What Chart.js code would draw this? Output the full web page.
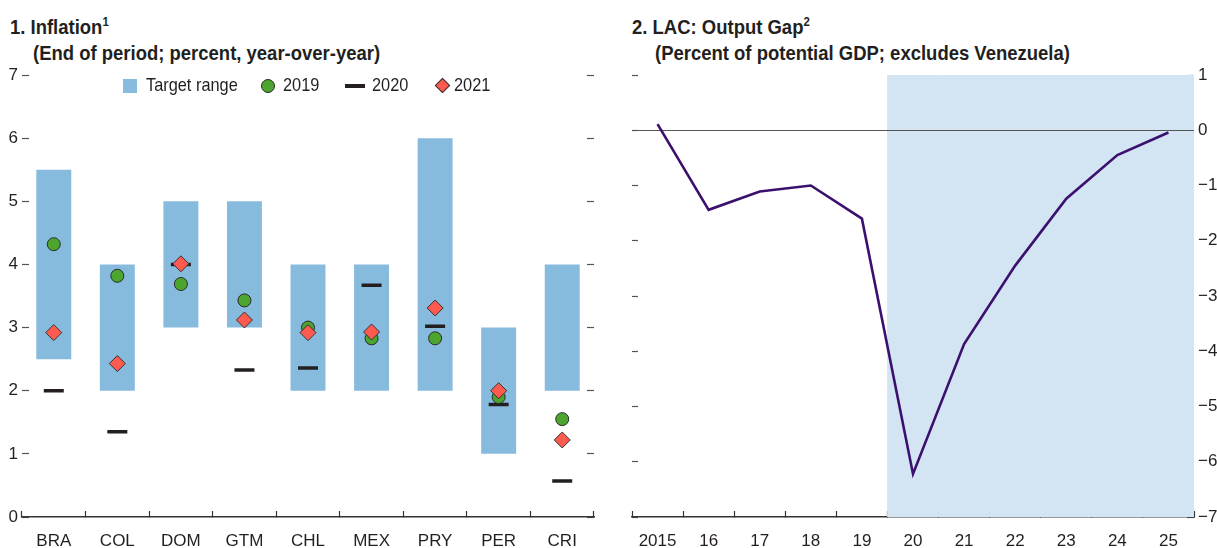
<!DOCTYPE html>
<html>
<head>
<meta charset="utf-8">
<script src="https://cdn.jsdelivr.net/npm/chart.js@4.4.1/dist/chart.umd.min.js"></script>
<style>
  body {
    margin: 0;
    width: 1217px;
    height: 548px;
    overflow: hidden;
    background: #fff;
    font-family: "Liberation Sans Narrow", "Liberation Sans", Arial, sans-serif;
    color: #231f20;
  }
  .painel { position: absolute; top: 0; height: 548px; }
  .titulo {
    position: absolute;
    font-weight: bold;
    font-size: 21px;
    line-height: 25px;
    white-space: nowrap;
    transform: scaleX(0.88);
    transform-origin: left center;
  }
  .titulo sup { font-size: 13px; vertical-align: 8px; line-height: 0; }
  .legenda {
    position: absolute;
    top: 74px;
    height: 22px;
    font-size: 19px;
    line-height: 22px;
    white-space: nowrap;
  }
  .legenda span {
    position: absolute;
    top: 0;
    transform: scaleX(0.86);
    transform-origin: left center;
  }
  .marca { position: absolute; }
</style>
</head>
<body>

<div class="titulo" style="left:10px; top:14px;">1. Inflation<sup>1</sup></div>
<div class="titulo" style="left:33px; top:40px;">(End of period; percent, year-over-year)</div>
<div class="titulo" style="left:632px; top:14px;">2. LAC: Output Gap<sup>2</sup></div>
<div class="titulo" style="left:655px; top:40px;">(Percent of potential GDP; excludes Venezuela)</div>

<div class="painel" style="left:0; width:610px;"><canvas id="graficoInflacao"></canvas></div>
<div class="painel" style="left:610px; width:607px;"><canvas id="graficoHiato"></canvas></div>

<div class="legenda" style="left:0; width:610px;">
  <div class="marca" style="left:123px; top:5px; width:14px; height:14px; background:#87bbde;"></div>
  <span style="left:146px;">Target range</span>
  <div class="marca" style="left:261px; top:5px; width:12px; height:12px; border-radius:50%; background:#4ca52e; border:1px solid #2b2b2b;"></div>
  <span style="left:283px;">2019</span>
  <div class="marca" style="left:345px; top:10px; width:20px; height:4px; background:#231f20;"></div>
  <span style="left:372px;">2020</span>
  <div class="marca" style="left:437px; top:6px; width:9px; height:9px; transform:rotate(45deg); background:#ff5a4f; border:1px solid #333;"></div>
  <span style="left:454px;">2021</span>
</div>

<script>
const paises = ["BRA", "COL", "DOM", "GTM", "CHL", "MEX", "PRY", "PER", "CRI"];
const metaMinima = [2.5, 2, 3, 3, 2, 2, 2, 1, 2];
const metaMaxima = [5.5, 4, 5, 5, 4, 4, 6, 3, 4];
const inflacao2019 = [4.32, 3.82, 3.69, 3.43, 3.0, 2.83, 2.83, 1.9, 1.55];
const inflacao2020 = [2.0, 1.35, 4.0, 2.33, 2.36, 3.67, 3.02, 1.78, 0.57];
const inflacao2021 = [2.92, 2.43, 4.01, 3.12, 2.92, 2.93, 3.31, 2.0, 1.22];

const anos = ["2015", "16", "17", "18", "19", "20", "21", "22", "23", "24", "25"];
const hiatoProduto = [0.11, -1.44, -1.11, -1.0, -1.6, -6.22, -3.87, -2.45, -1.24, -0.45, -0.04];
const inicioProjecao = "20";

const FONTE = "'Liberation Sans Narrow', 'Liberation Sans', Arial, sans-serif";
const COR_TEXTO = "#231f20";
const COR_TICK = "#555555";
const TAM_TICK = 17;

Chart.defaults.font.family = FONTE;
Chart.defaults.color = COR_TEXTO;
Chart.defaults.animation = false;

// faixa de meta como barra flutuante
const faixaMeta = paises.map((p, i) => [metaMinima[i], metaMaxima[i]]);

new Chart(document.getElementById("graficoInflacao"), {
  type: "bar",
  data: {
    labels: paises,
    datasets: [
      {
        type: "line",
        label: "2021",
        data: inflacao2021,
        showLine: false,
        pointStyle: "rectRot",
        pointRadius: 8,
        pointBackgroundColor: "#ff5a4f",
        pointBorderColor: "#333333",
        pointBorderWidth: 1,
        order: 0
      },
      {
        type: "line",
        label: "2019",
        data: inflacao2019,
        showLine: false,
        pointStyle: "circle",
        pointRadius: 6.5,
        pointBackgroundColor: "#4ca52e",
        pointBorderColor: "#2b2b2b",
        pointBorderWidth: 1,
        order: 1
      },
      {
        type: "line",
        label: "2020",
        data: inflacao2020,
        showLine: false,
        pointStyle: "line",
        pointRadius: 10,
        pointBorderColor: COR_TEXTO,
        pointBorderWidth: 3.5,
        order: 2
      },
      {
        label: "Target range",
        data: faixaMeta,
        backgroundColor: "#87bbde",
        borderWidth: 0,
        barPercentage: 0.55,
        categoryPercentage: 1,
        order: 3
      }
    ]
  },
  options: {
    responsive: true,
    maintainAspectRatio: false,
    events: [],
    layout: { padding: { top: 75, left: 0, right: 0, bottom: 0 } },
    plugins: {
      legend: { display: false },
      tooltip: { enabled: false }
    },
    scales: {
      x: {
        offset: true,
        grid: {
          offset: true,
          drawOnChartArea: false,
          drawTicks: true,
          tickLength: -6,
          tickColor: "#333333",
          tickWidth: 1.2
        },
        border: { display: true, color: "#333333", width: 1.5 },
        ticks: { font: { size: TAM_TICK }, padding: 20, color: COR_TEXTO },
        afterFit(escala) { escala.height = 31; }
      },
      y: {
        min: 0,
        max: 7,
        ticks: { stepSize: 1, font: { size: TAM_TICK }, padding: 11, color: COR_TEXTO },
        grid: {
          drawOnChartArea: false,
          tickLength: -7,
          tickColor: COR_TICK,
          tickWidth: 1.2
        },
        border: { display: false },
        afterFit(escala) { escala.width = 22; }
      },
      y2: {
        position: "right",
        min: 0,
        max: 7,
        ticks: { stepSize: 1, callback: () => "" },
        grid: {
          drawOnChartArea: false,
          tickLength: -7,
          tickColor: COR_TICK,
          tickWidth: 1.2
        },
        border: { display: false },
        afterFit(escala) { escala.width = 16; }
      }
    }
  }
});

// faixa sombreada do período projetado
const Y_MIN = -7;
const Y_MAX = 1;
const indiceProjecao = anos.indexOf(inicioProjecao);
const faixaProjecao = anos.map((a, i) => (i >= indiceProjecao ? [Y_MIN, Y_MAX] : null));

function formatarNegativo(valor) {
  return valor < 0 ? "\u2212" + Math.abs(valor) : String(valor);
}

// linha do zero por cima da faixa sombreada, por baixo da série
const linhaZero = {
  id: "linhaZero",
  afterDatasetDraw(chart, args) {
    if (args.meta.type !== "bar") return;
    const y = Math.round(chart.scales.y.getPixelForValue(0)) + 0.5;
    const ctx = chart.ctx;
    ctx.save();
    ctx.strokeStyle = "#555555";
    ctx.lineWidth = 1.2;
    ctx.beginPath();
    ctx.moveTo(chart.chartArea.left, y);
    ctx.lineTo(chart.chartArea.right, y);
    ctx.stroke();
    ctx.restore();
  }
};

new Chart(document.getElementById("graficoHiato"), {
  type: "bar",
  data: {
    labels: anos,
    datasets: [
      {
        type: "line",
        label: "Output gap",
        data: hiatoProduto,
        borderColor: "#3c106e",
        borderWidth: 2.6,
        pointRadius: 0,
        tension: 0,
        order: 0
      },
      {
        label: "Projection",
        data: faixaProjecao,
        backgroundColor: "#d3e4f2",
        borderWidth: 0,
        barPercentage: 1,
        categoryPercentage: 1,
        order: 1
      }
    ]
  },
  options: {
    responsive: true,
    maintainAspectRatio: false,
    events: [],
    layout: { padding: { top: 75, left: 0, right: 0, bottom: 0 } },
    plugins: {
      legend: { display: false },
      tooltip: { enabled: false }
    },
    scales: {
      x: {
        offset: true,
        grid: {
          offset: true,
          drawOnChartArea: false,
          tickLength: -6,
          tickColor: "#333333",
          tickWidth: 1.2
        },
        border: { display: true, color: "#333333", width: 1.5 },
        ticks: { font: { size: TAM_TICK }, padding: 20, color: COR_TEXTO },
        afterFit(escala) { escala.height = 31; }
      },
      y: {
        min: Y_MIN,
        max: Y_MAX,
        ticks: { stepSize: 1, callback: () => "" },
        grid: {
          drawOnChartArea: false,
          tickLength: -6,
          tickColor: COR_TICK,
          tickWidth: 1.2
        },
        border: { display: false },
        afterFit(escala) { escala.width = 22; }
      },
      y2: {
        position: "right",
        min: Y_MIN,
        max: Y_MAX,
        ticks: {
          stepSize: 1,
          font: { size: TAM_TICK },
          padding: 11,
          color: COR_TEXTO,
          callback: (valor) => formatarNegativo(valor)
        },
        grid: {
          drawOnChartArea: false,
          tickLength: -7,
          tickColor: COR_TICK,
          tickWidth: 1.2
        },
        border: { display: false },
        afterFit(escala) { escala.width = 23; }
      }
    }
  },
  plugins: [linhaZero]
});
</script>
</body>
</html>
